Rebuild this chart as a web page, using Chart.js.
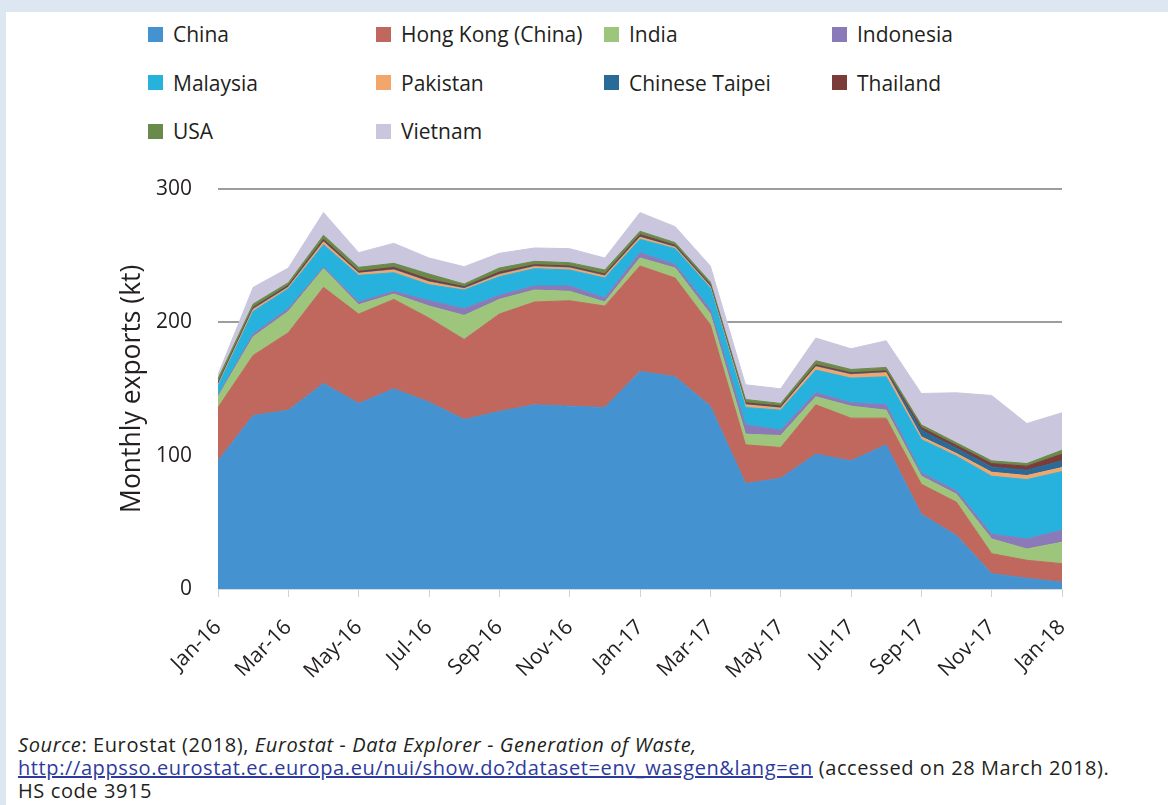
<!DOCTYPE html>
<html>
<head>
<meta charset="utf-8">
<script src="https://cdn.jsdelivr.net/npm/chart.js@4.4.1/dist/chart.umd.min.js"></script>
<style>
  html, body { margin: 0; padding: 0; width: 1168px; height: 805px; overflow: hidden; background: #dde7f1; font-family: "Open Sans", sans-serif; color: #231f20; }
  #panel { position: absolute; left: 6px; top: 12px; right: 0; bottom: 0; background: #fff; }
  #legend { position: absolute; left: 148px; top: 22px; display: grid; grid-template-columns: repeat(4, 228px); grid-auto-rows: 48.5px; }
  .item { display: flex; align-items: center; height: 24px; font-size: 21px; white-space: nowrap; }
  .box { width: 15px; height: 15px; margin-right: 10px; flex: none; }
  #chart { position: absolute; left: 0; top: 150px; }
  #source { position: absolute; left: 18px; top: 733px; font-size: 20px; letter-spacing: 0.6px; line-height: 23px; }
  #source a { color: #2e3b9e; }
</style>
</head>
<body>
<div id="panel"></div>
<div id="legend"></div>
<canvas id="chart" width="1168" height="560"></canvas>
<div id="source"><i>Source</i>: Eurostat (2018), <i>Eurostat - Data Explorer - Generation of Waste,</i><br><a href="http://appsso.eurostat.ec.europa.eu/nui/show.do?dataset=env_wasgen&amp;lang=en">http://appsso.eurostat.ec.europa.eu/nui/show.do?dataset=env_wasgen&amp;lang=en</a> (accessed on 28 March 2018).<br>HS code 3915</div>
<script>
// months on the x axis
const months = ['Jan-16','Feb-16','Mar-16','Apr-16','May-16','Jun-16','Jul-16','Aug-16','Sep-16','Oct-16','Nov-16','Dec-16',
                'Jan-17','Feb-17','Mar-17','Apr-17','May-17','Jun-17','Jul-17','Aug-17','Sep-17','Oct-17','Nov-17','Dec-17','Jan-18'];

// monthly exports (kt) per destination
const china     = [96,130,134,154,139,150,140,127,133,138,137,136,163,159,137,79,83,101,96,108,56,40,11.5,8,5];
const hongKong  = [40,45,58,72,67,67,63,60,73,77,79,76,79,74,61,29,23,37,32,20,22.5,25,15,13.5,14];
const india     = [8,14,16,14,7,4,9,18,11,9,7,3,6,7.5,8,8,9,6,9,6,6,6,11,8.5,16];
const indonesia = [1,2,2,1,2,2,4,5,3,3,4,3,4,2.5,3.5,7,4,3,2.5,4,2.5,2.5,3.5,7.5,9];
const malaysia  = [7,17,15,17,20,14,12,14,14,13,12,15,10,12,16,13,15,17,18.5,21,25,26,43.5,44.5,44];
const pakistan  = [1,1.5,1,2,1.5,2,2,1,1.5,1.5,1.5,1.5,1.5,1,1,2,1.5,2.5,2.5,3,2,2,3,3,3];
const taipei    = [0.5,0.5,0.5,0.5,0.5,0.5,0.5,0.5,0.5,0.5,0.5,0.5,0.5,0.5,0.5,0.5,0.5,0.5,0.5,0.5,5,4,4,4,5];
const thailand  = [1,1,1,1.5,1,1.5,1.5,1,1.5,1,1,1,1.5,1,1,1,1,1,1,1,2,2,2.5,3,5];
const usa       = [3,2.5,2,3,3,3,4,2,3,2.5,2.5,3,2.5,2,2,2.5,2,3,2.5,2.5,2,2,2,2,3];
const vietnam   = [3,12.5,11,17,11,15,12,13,11,10,10.5,9,14,12,12,11,11,17,15.5,20,23.5,37.5,49,30,28];

const names  = ['China','Hong Kong (China)','India','Indonesia','Malaysia','Pakistan','Chinese Taipei','Thailand','USA','Vietnam'];
const series = [china, hongKong, india, indonesia, malaysia, pakistan, taipei, thailand, usa, vietnam];
const colors = ['#4592d0','#c0675e','#9dc57b','#8a7ab8','#27b2dd','#f2a66b','#2a6a97','#7b3b39','#6a8a4c','#cac6dd'];

const yTicks = [0, 100, 200, 300];

// legend
const legend = document.getElementById('legend');
names.forEach(function (n, i) {
  const d = document.createElement('div');
  d.className = 'item';
  d.innerHTML = '<span class="box" style="background:' + colors[i] + '"></span>' + n;
  legend.appendChild(d);
});

const datasets = series.map(function (s, i) {
  return {
    label: names[i],
    data: s,
    backgroundColor: colors[i],
    borderColor: colors[i],
    borderWidth: 1,
    pointRadius: 0,
    tension: 0,
    fill: i === 0 ? 'origin' : '-1'
  };
});

const font = 'Open Sans';

new Chart(document.getElementById('chart'), {
  type: 'line',
  data: { labels: months, datasets: datasets },
  options: {
    responsive: false,
    animation: false,
    layout: { padding: { left: 0, right: 106, top: 33, bottom: 0 } },
    plugins: { legend: { display: false }, tooltip: { enabled: false } },
    scales: {
      x: {
        afterFit: function (s) { s.height = 121; },
        grid: { drawOnChartArea: false, drawTicks: true, tickLength: 8, color: '#d2d2d2' },
        border: { display: true, color: '#d8d8d8' },
        ticks: {
          autoSkip: false, minRotation: 45, maxRotation: 45, padding: 18,
          color: '#231f20', font: { family: font, size: 21 },
          callback: function (v, i) { return i % 2 === 0 ? this.getLabelForValue(v) : null; }
        }
      },
      y: {
        stacked: true,
        min: yTicks[0],
        max: yTicks[yTicks.length - 1],
        afterFit: function (s) { s.width = 218; },
        afterBuildTicks: function (s) { s.ticks = yTicks.map(function (v) { return { value: v }; }); },
        grid: { color: '#9d9d9d', lineWidth: 2, drawTicks: false },
        border: { display: false },
        ticks: { padding: 26, color: '#231f20', font: { family: font, size: 21 } },
        title: {
          display: true, text: 'Monthly exports (kt)', color: '#231f20',
          font: { family: font, size: 26.5 }, padding: { top: 117, bottom: 0 }
        }
      }
    }
  }
});
</script>
</body>
</html>
